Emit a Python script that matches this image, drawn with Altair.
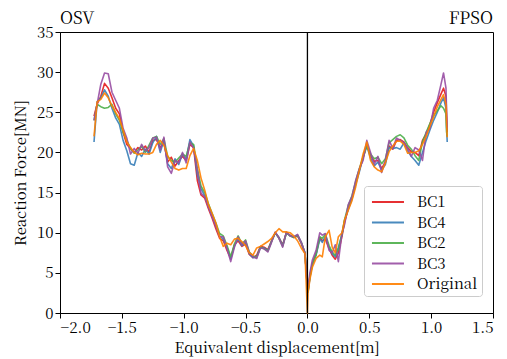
import altair as alt
import pandas as pd

# Displacement grids (m): OSV side (negative) and FPSO side (positive)
x_osv = [-1.725, -1.70, -1.67, -1.64, -1.61, -1.58, -1.55, -1.52, -1.49, -1.46,
         -1.43, -1.40, -1.37, -1.34, -1.31, -1.28, -1.25, -1.22, -1.19, -1.16,
         -1.13, -1.10, -1.07, -1.04, -1.01, -0.98, -0.95, -0.92, -0.89, -0.86,
         -0.83, -0.80, -0.77, -0.74, -0.71, -0.68, -0.65, -0.62, -0.59, -0.56,
         -0.53, -0.50, -0.47, -0.44, -0.41, -0.38, -0.35, -0.32, -0.29, -0.26,
         -0.23, -0.20, -0.17, -0.14, -0.11, -0.08, -0.05, -0.02, 0.0]
x_fpso = [0.005, 0.02, 0.04, 0.07, 0.10, 0.12, 0.145, 0.175, 0.20, 0.225,
          0.25, 0.28, 0.30, 0.33, 0.36, 0.39, 0.42, 0.45, 0.48, 0.51,
          0.54, 0.57, 0.60, 0.63, 0.66, 0.69, 0.72, 0.75, 0.78, 0.81,
          0.84, 0.87, 0.90, 0.93, 0.96, 0.99, 1.02, 1.05, 1.08, 1.10,
          1.12, 1.125, 1.13]

# Reaction force (MN) on the OSV side
bc1_osv = [24.5, 26.0, 27.0, 28.6, 28.0, 26.8, 25.5, 24.8, 22.5, 21.0,
           20.5, 20.0, 20.6, 20.3, 20.8, 20.0, 21.5, 21.6, 20.6, 21.2,
           18.8, 19.4, 18.3, 19.0, 19.5, 19.0, 21.0, 20.6, 16.5, 14.7,
           14.3, 13.0, 11.8, 10.5, 9.3, 9.0, 7.8, 6.8, 8.5, 9.0,
           8.3, 8.6, 7.3, 6.9, 7.2, 8.3, 8.2, 7.9, 9.0, 10.0,
           9.4, 8.5, 10.0, 9.7, 9.4, 9.6, 8.7, 7.4, 3.0]
bc4_osv = [21.3, 26.3, 26.8, 27.8, 27.0, 25.5, 24.3, 23.5, 21.5, 20.2,
           18.6, 18.4, 20.0, 19.5, 20.4, 19.8, 21.2, 22.0, 20.0, 21.5,
           18.6, 18.0, 19.2, 18.5, 19.8, 19.2, 21.6, 20.8, 17.2, 15.5,
           14.6, 13.3, 12.1, 10.9, 9.6, 9.2, 8.2, 6.7, 8.4, 9.3,
           8.4, 8.8, 7.4, 6.9, 7.0, 8.2, 8.1, 7.8, 8.9, 10.0,
           9.4, 8.4, 10.0, 9.6, 9.5, 9.7, 8.8, 7.5, 3.1]
bc2_osv = [24.0, 26.0, 25.7, 25.5, 25.6, 26.0, 24.8, 24.0, 22.5, 21.5,
           20.5, 19.9, 20.3, 20.8, 20.0, 20.9, 21.8, 22.0, 21.0, 21.7,
           19.5, 19.0, 18.8, 19.3, 19.8, 19.5, 21.2, 21.0, 18.0, 15.8,
           15.0, 13.6, 12.4, 11.2, 9.9, 9.6, 8.4, 7.0, 8.6, 9.6,
           8.6, 9.1, 7.6, 7.1, 6.9, 8.2, 8.0, 7.7, 8.9, 10.0,
           9.3, 8.3, 10.0, 9.6, 9.4, 9.7, 8.8, 7.5, 3.1]
bc3_osv = [24.0, 26.0, 28.5, 29.9, 29.8, 27.5, 26.5, 25.5, 23.0, 21.8,
           19.8, 20.5, 19.9, 21.0, 20.2, 20.6, 21.8, 21.9, 20.3, 21.9,
           18.2, 17.4, 19.0, 18.7, 20.0, 18.7, 21.3, 20.5, 17.8, 14.9,
           14.5, 13.2, 12.0, 10.8, 9.5, 9.5, 8.0, 6.4, 8.2, 9.5,
           8.5, 9.0, 7.5, 7.0, 6.8, 8.1, 8.0, 7.6, 8.8, 10.1,
           9.3, 8.2, 10.1, 9.6, 9.5, 9.8, 8.8, 7.5, 3.2]
orig_osv = [22.0, 26.3, 26.6, 27.4, 26.8, 25.8, 25.0, 24.2, 22.8, 21.3,
            20.6, 20.0, 19.7, 19.9, 19.8, 19.8, 20.0, 21.0, 21.5, 20.9,
            19.6, 18.8, 18.0, 17.8, 18.0, 18.0, 19.6, 20.5, 19.0, 16.8,
            15.3, 13.5, 12.4, 11.2, 9.5, 8.3, 8.7, 8.5, 9.2, 9.3,
            8.9, 8.4, 7.5, 7.2, 8.1, 8.3, 8.6, 8.9, 9.3, 10.0,
            10.5, 10.1, 10.1, 10.0, 9.6, 9.0, 8.1, 7.4, 0.0]

# Reaction force (MN) on the FPSO side
bc1_fpso = [2.8, 4.6, 6.2, 7.4, 9.4, 9.0, 9.2, 8.0, 7.2, 6.7,
            7.5, 9.6, 11.3, 13.0, 14.3, 16.2, 17.8, 19.3, 21.0, 19.6,
            18.9, 19.0, 18.0, 18.8, 20.8, 20.4, 21.5, 21.6, 21.3, 20.6,
            20.1, 20.0, 19.6, 21.5, 22.3, 23.5, 25.0, 26.2, 27.3, 28.0,
            27.0, 24.5, 22.5]
bc4_fpso = [2.6, 4.4, 6.0, 7.2, 9.2, 8.8, 9.6, 8.2, 7.4, 7.0,
            8.2, 9.8, 11.5, 12.9, 14.2, 16.0, 17.6, 19.5, 20.8, 19.3,
            18.3, 18.8, 17.8, 18.5, 20.6, 20.5, 20.6, 20.4, 21.2, 20.2,
            19.5, 19.0, 18.4, 20.0, 21.5, 22.8, 24.0, 25.0, 26.2, 26.8,
            25.5, 23.0, 21.3]
bc2_fpso = [2.7, 4.5, 6.1, 7.3, 9.5, 9.3, 9.8, 8.4, 7.6, 7.2,
            7.9, 9.9, 11.6, 13.4, 14.6, 16.4, 18.0, 19.4, 20.8, 19.8,
            19.2, 19.4, 18.6, 19.2, 21.2, 21.6, 22.0, 22.2, 21.8, 20.9,
            20.4, 19.6, 19.0, 21.3, 22.5, 23.6, 24.6, 25.2, 25.8, 25.5,
            24.8, 22.5, 22.0]
bc3_fpso = [3.2, 5.0, 6.6, 7.8, 10.0, 9.7, 9.9, 7.8, 7.5, 8.5,
            6.4, 10.0, 11.0, 13.5, 14.5, 16.5, 18.0, 19.0, 21.5, 20.0,
            18.5, 19.5, 17.5, 19.0, 21.5, 20.5, 21.8, 21.5, 21.2, 20.5,
            19.5, 20.6, 20.3, 19.0, 22.5, 23.0, 25.5, 26.5, 28.5, 29.9,
            28.0, 25.0, 23.0]
orig_fpso = [2.5, 4.2, 5.7, 6.8, 7.2, 7.0, 9.5, 10.3, 8.2, 7.5,
             9.5, 10.0, 11.6, 12.8, 14.0, 15.7, 17.8, 19.8, 21.3, 19.0,
             18.2, 17.8, 17.6, 18.7, 20.1, 20.8, 21.4, 21.4, 21.0, 19.9,
             20.0, 20.0, 20.2, 21.0, 22.0, 23.3, 24.4, 25.7, 26.6, 27.2,
             26.0, 23.5, 21.9]

series_names = ["BC1", "BC4", "BC2", "BC3", "Original"]
series_colors = ["#e41a1c", "#377eb8", "#4daf4a", "#984ea3", "#ff7f00"]
osv_values = [bc1_osv, bc4_osv, bc2_osv, bc3_osv, orig_osv]
fpso_values = [bc1_fpso, bc4_fpso, bc2_fpso, bc3_fpso, orig_fpso]

side_labels = ["OSV", "FPSO"]
side_label_x = [-2.0, 1.5]
side_label_align = ["left", "right"]

x_ticks = [-2.0, -1.5, -1.0, -0.5, 0.0, 0.5, 1.0, 1.5]
y_ticks = [0, 5, 10, 15, 20, 25, 30, 35]

rows = []
for name, left, right in zip(series_names, osv_values, fpso_values):
    xs = x_osv + x_fpso
    ys = left + right
    for i, (xv, yv) in enumerate(zip(xs, ys)):
        rows.append({"series": name, "x": xv, "y": yv, "idx": i})
df = pd.DataFrame(rows)

FONT = "Noto Serif CJK SC, Liberation Serif, serif"
FS = 15

color = alt.Color(
    "series:N",
    scale=alt.Scale(domain=series_names, range=series_colors),
    legend=alt.Legend(
        title=None,
        orient="none",
        legendX=304,
        legendY=154,
        symbolType="M-0.73,0H2.18",
        symbolSize=484,
        symbolStrokeWidth=1.8,
        labelOffset=25,
        labelFont=FONT,
        labelFontSize=FS,
        labelColor="black",
        rowPadding=0.5,
        padding=4,
        fillColor="white",
        strokeColor="#cccccc",
        cornerRadius=3,
    ),
)

xenc = alt.X(
    "x:Q",
    scale=alt.Scale(domain=[-2.0, 1.5], nice=False, zero=False),
    axis=alt.Axis(values=x_ticks, format=".1f", title="Equivalent displacement[m]",
                  titleY=34, titleBaseline="middle"),
)
yenc = alt.Y(
    "y:Q",
    scale=alt.Scale(domain=[0, 35], nice=False),
    axis=alt.Axis(values=y_ticks, title="Reaction Force[MN]",
                  titleX=-40, titleY=140.5, titleAngle=270,
                  titleAlign="center", titleBaseline="middle"),
)

layers = []
for name in series_names:
    layers.append(
        alt.Chart(df)
        .transform_filter(alt.datum.series == name)
        .mark_line(strokeWidth=1.6, strokeJoin="round", opacity=0.9)
        .encode(x=xenc, y=yenc, color=color, order=alt.Order("idx:Q"))
    )

zero_line = (
    alt.Chart(pd.DataFrame({"x": [0.0]}))
    .mark_rule(color="black", strokeWidth=1.3)
    .encode(x="x:Q")
)

label_df = pd.DataFrame({"label": side_labels, "x": side_label_x, "align": side_label_align})
osv_text = (
    alt.Chart(label_df[label_df["align"] == "left"])
    .mark_text(align="left", baseline="alphabetic", font=FONT, fontSize=17, color="black")
    .encode(x="x:Q", y=alt.value(-8), text="label:N")
)
fpso_text = (
    alt.Chart(label_df[label_df["align"] == "right"])
    .mark_text(align="right", baseline="alphabetic", font=FONT, fontSize=17, color="black")
    .encode(x="x:Q", y=alt.value(-8), text="label:N")
)

chart = (
    alt.layer(*layers, zero_line, osv_text, fpso_text)
    .properties(
        width=433,
        height=281,
        autosize=alt.AutoSizeParams(type="none"),
        padding={"left": 60, "top": 32, "right": 14, "bottom": 46},
        background="white",
    )
    .configure_view(stroke="black", strokeWidth=1)
    .configure_axis(
        grid=False,
        domainColor="black",
        domainWidth=1,
        tickColor="black",
        tickSize=5,
        tickWidth=1,
        labelFont=FONT,
        labelFontSize=FS,
        labelColor="black",
        labelPadding=2,
        titleFont=FONT,
        titleFontSize=FS,
        titleFontWeight="normal",
        titleColor="black",
    )
)

chart.save("out.html", embed_options={"renderer": "svg", "actions": False})
